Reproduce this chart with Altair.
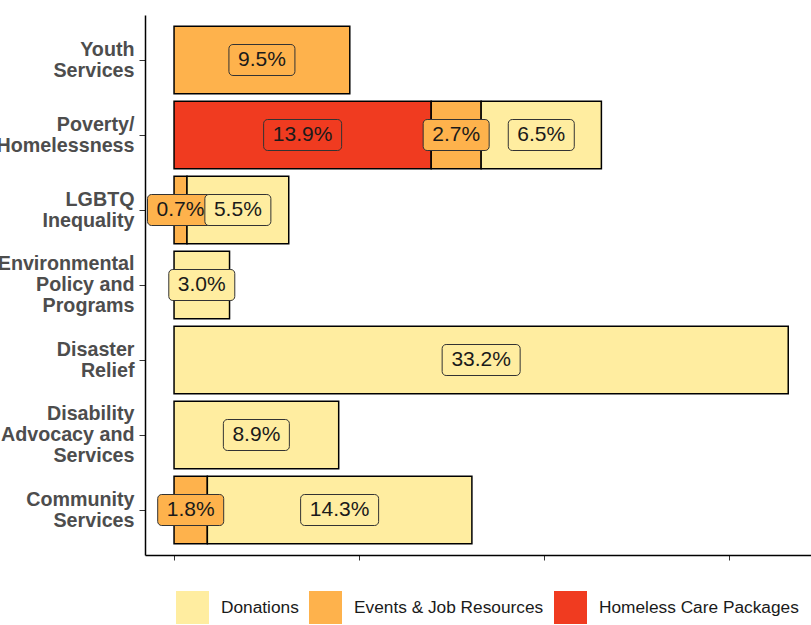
import altair as alt
import pandas as pd

categories = [
    "Youth\nServices",
    "Poverty/\nHomelessness",
    "LGBTQ\nInequality",
    "Environmental\nPolicy and\nPrograms",
    "Disaster\nRelief",
    "Disability\nAdvocacy and\nServices",
    "Community\nServices",
]
types = ["Donations", "Events & Job Resources", "Homeless Care Packages"]
colors = ["#FFEDA0", "#FEB24C", "#F03B20"]
stack_order = {"Homeless Care Packages": 0, "Events & Job Resources": 1, "Donations": 2}

row_category = [
    categories[0],
    categories[1], categories[1], categories[1],
    categories[2], categories[2],
    categories[3],
    categories[4],
    categories[5],
    categories[6], categories[6],
]
row_type = [
    "Events & Job Resources",
    "Homeless Care Packages", "Events & Job Resources", "Donations",
    "Events & Job Resources", "Donations",
    "Donations",
    "Donations",
    "Donations",
    "Events & Job Resources", "Donations",
]
row_value = [9.5, 13.9, 2.7, 6.5, 0.7, 5.5, 3.0, 33.2, 8.9, 1.8, 14.3]

df = pd.DataFrame({"category": row_category, "type": row_type, "value": row_value})
df["ord"] = df["type"].map(stack_order)
df = df.sort_values(["ord"], kind="stable").reset_index(drop=True)

W, H = 666, 540
XMIN, XMAX = -1.57, 34.43
PX = W / (XMAX - XMIN)
LH = 21

color = alt.Color("type:N", scale=alt.Scale(domain=types, range=colors),
                  legend=alt.Legend(title=None))
yenc = alt.Y("category:N", sort=categories,
             scale=alt.Scale(paddingInner=0.1, paddingOuter=0.15),
             axis=alt.Axis(title=None, labelExpr="split(datum.label, '\\n')",
                           labelFontSize=19.7, labelFontWeight="bold", labelColor="#4d4d4d",
                           labelLineHeight=LH, labelPadding=5, tickSize=6, tickColor="#333",
                           labelOffset=alt.ExprRef(
                               expr=f"-(length(split(datum.label, '\\n')) - 1) * {LH / 2}"),
                           domainColor="black", domainWidth=1.5))
xscale = alt.Scale(domain=[XMIN, XMAX], nice=False, zero=False)
xaxis = alt.Axis(title=None, labels=False, values=[0, 10, 20, 30], grid=False,
                 tickSize=5, tickColor="#333", domainColor="black", domainWidth=1.5)

base = alt.Chart(df).transform_stack(
    stack="value", groupby=["category"], as_=["x0", "x1"],
    sort=[alt.SortField("ord", order="ascending")]
).transform_calculate(
    mid="(datum.x0 + datum.x1) / 2",
    label="format(datum.value, '.1f') + '%'",
).transform_calculate(
    half=f"(12 * length(datum.label) + 18) / 2 / {PX}",
).transform_calculate(
    blo="datum.mid - datum.half",
    bhi="datum.mid + datum.half",
)

bars = base.mark_bar(stroke="black", strokeWidth=1.5).encode(
    x=alt.X("x0:Q", scale=xscale, axis=xaxis),
    x2="x1:Q",
    y=yenc,
    color=color,
)

boxes = base.mark_bar(size=31, cornerRadius=4, stroke="#333", strokeWidth=1).encode(
    x=alt.X("blo:Q", scale=xscale, axis=xaxis),
    x2="bhi:Q",
    y=yenc,
    color=color,
)

texts = base.mark_text(fontSize=21, color="#1a1a1a").encode(
    x=alt.X("mid:Q", scale=xscale, axis=xaxis),
    y=yenc,
    text="label:N",
)

chart = alt.layer(bars, boxes, texts).properties(
    width=W, height=H,
    autosize=alt.AutoSizeParams(type="none"),
    padding={"left": 145, "top": 15, "right": 0, "bottom": 70},
).configure(font="Liberation Sans").configure_view(stroke=None).configure_legend(
    orient="none", legendX=31, legendY=576, direction="horizontal",
    symbolType="square", symbolSize=1089, symbolStrokeWidth=0, symbolOpacity=1,
    labelFontSize=17.3, labelOffset=12, columnPadding=10, padding=0,
    labelColor="#1a1a1a", labelLimit=400,
)

chart.save("out.html", embed_options={"renderer": "svg", "actions": False})
